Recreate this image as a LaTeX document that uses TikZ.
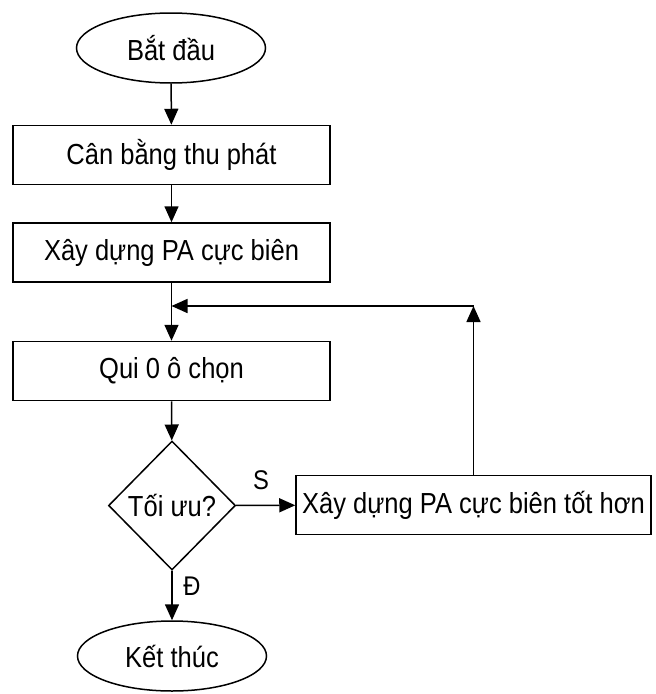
\documentclass[tikz,border=0pt]{standalone}
\usepackage{fontspec}
\setmainfont{Liberation Sans}[FakeStretch=0.88]
\usetikzlibrary{shapes.geometric,arrows.meta}

\begin{document}
\begin{tikzpicture}
  [x=1pt,y=1pt,line width=1.5pt,
   every node/.style={font=\fontsize{29}{34}\selectfont},
   terminal/.style={draw,ellipse,minimum width=189pt,minimum height=70pt},
   stepbox/.style={draw,rectangle,minimum width=317pt,minimum height=59pt},
   test/.style={draw,diamond,aspect=1,inner sep=0pt,minimum width=127pt,minimum height=129pt},
   flow/.style={-{Triangle[length=16pt,width=14pt]}},
   tag/.style={font=\fontsize{27}{32}\selectfont}]
  \useasboundingbox (0,0) rectangle (656,-694);
  \node[terminal] (start) at (171,-48) {Bắt đầu};
  \node[stepbox] (balance) at (171.5,-155) {Cân bằng thu phát};
  \node[stepbox] (build) at (171.5,-252.5) {Xây dựng PA cực biên};
  \node[stepbox] (zero) at (171.5,-371) {Qui 0 ô chọn};
  \node[test] (optimal) at (172,-505.5) {Tối ưu?};
  \node[draw,rectangle,inner sep=2pt,minimum width=355pt,minimum height=59pt] (better) at (473.5,-505) {Xây dựng PA cực biên tốt hơn};
  \node[terminal] (stop) at (172,-656) {Kết thúc};
  % loop back
  \coordinate (corner) at (better.north |- 0,-306);
  \coordinate (merge) at (zero.north |- corner);
  \draw[flow] (start) -- (balance);
  \draw[flow] (balance) -- (build);
  \draw[flow] (build) -- (zero);
  \draw[flow] (zero) -- (optimal);
  \draw[flow] (optimal) -- (better);
  \draw[flow] (optimal) -- (stop);
  \draw[flow] (better.north) -- (corner);
  \draw[flow] (corner) -- (merge);
  \node[tag] (no) at (261,-480) {S};
  \node[tag] (yes) at (192,-586) {Đ};
\end{tikzpicture}
\end{document}
